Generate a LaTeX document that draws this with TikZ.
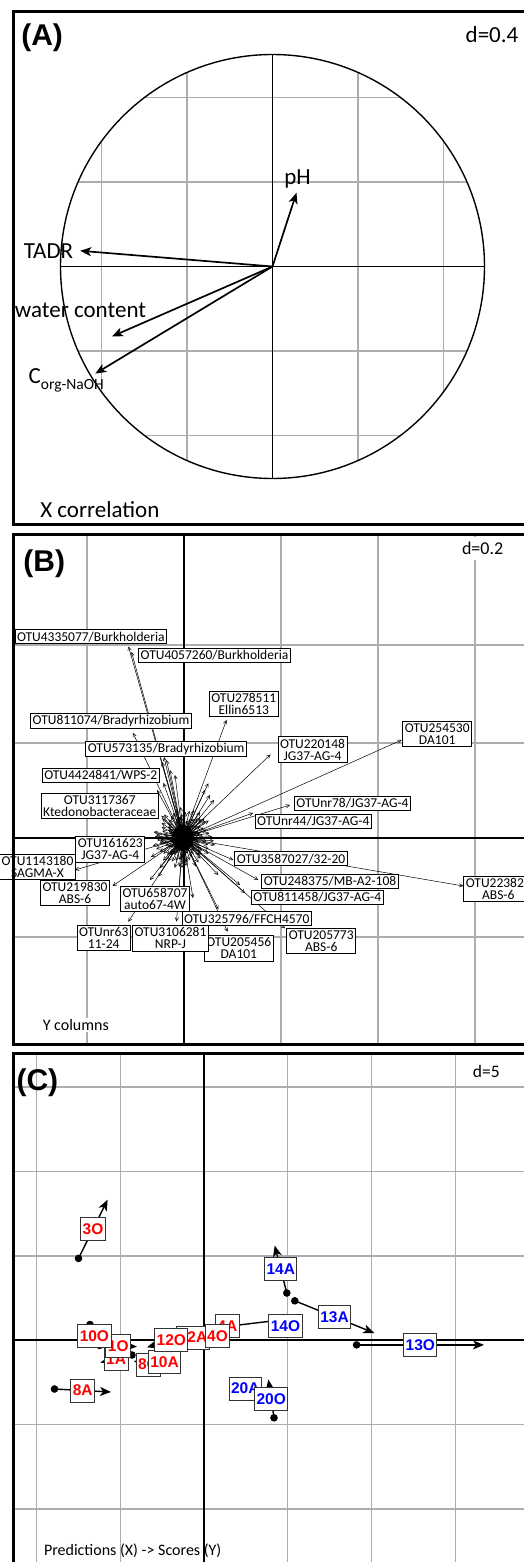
\documentclass[tikz,border=0pt]{standalone}
\usepackage{fontspec}
\setmainfont{Carlito}
\newfontfamily\headfont{Liberation Sans}
\usetikzlibrary{arrows.meta,calc}

\begin{document}
\begin{tikzpicture}
    [x=1pt, y=-1pt,
    panelframe/.style={line width=3pt},
    gridline/.style={black!32, line width=1.1pt},
    axisline/.style={black, line width=1.8pt},
    panelname/.style={font=\headfont\bfseries\fontsize{30}{30}\selectfont, inner sep=0pt},
    bigtext/.style={font=\fontsize{23}{23}\selectfont, inner sep=0pt},
    smalltext/.style={font=\fontsize{16}{16}\selectfont, inner sep=1pt},
    dtext/.style={font=\fontsize{18}{18}\selectfont, fill=white, inner sep=5pt},
    corarrow/.style={line width=1.7pt, -{Stealth[length=11pt,width=9pt,inset=3pt]}},
    otuarrow/.style={line width=0.5pt, -{Straight Barb[length=3.5pt,width=3.5pt]}},
    otu/.style={draw, fill=white, line width=0.8pt, inner sep=2pt, align=center,
        font=\fontsize{13.5}{12}\selectfont},
    scorearrow/.style={line width=1.4pt, -{Stealth[length=11pt,width=9pt,inset=3pt]}},
    smp/.style={draw=black!80, fill=white, line width=1pt, inner xsep=2pt, inner ysep=0pt,
        minimum height=23pt, font=\headfont\bfseries\fontsize{15.5}{15.5}\selectfont}]

\useasboundingbox (0,0) rectangle (524,1562);
\clip (0,0) rectangle (524,1562);

% (A) X correlation
\coordinate (oa) at (272.5,266.5);
\begin{scope}
    \clip (oa) circle [radius=212];
    \foreach \k in {-2,-1,1,2} {
        \draw[gridline] ($(oa)+(\k*85.5,-250)$) -- ($(oa)+(\k*85.5,250)$);
        \draw[gridline] ($(oa)+(-250,\k*84.5)$) -- ($(oa)+(250,\k*84.5)$);
    }
\end{scope}
\draw[line width=1.4pt] (oa) circle [radius=212];
\draw[line width=1.4pt] ($(oa)+(-212,0)$) -- ($(oa)+(212,0)$);
\draw[line width=1.4pt] ($(oa)+(0,-212)$) -- ($(oa)+(0,212)$);

\coordinate (tph) at (296.5,192.7);
\coordinate (ttadr) at (80.2,250.8);
\coordinate (twater) at (112,336.4);
\coordinate (tcorg) at (95.3,373.6);
\foreach \t in {tph,ttadr,twater,tcorg}
    \draw[corarrow] (oa) -- (\t);

\node[bigtext] (ph) at (297.5,179.2) {pH};
\node[bigtext] (tadr) at (48.5,250.8) {TADR};
\node[bigtext] (water) at (80.5,310.3) {water content};
\node[bigtext, anchor=west] (corg) at (28.5,380) {C\raisebox{-6pt}{\fontsize{15.5}{15.5}\selectfont org-NaOH}};
\node[panelname] (pa) at (42.1,37.9) {(A)};
\node[bigtext] (da) at (492,34.8) {d=0.4};
\node[bigtext] (xcor) at (99.8,510) {X correlation};

% (B) Y columns
\coordinate (ob) at (183,838);
\foreach \gx in {87,281,378,475}
    \draw[gridline] (\gx,534) -- (\gx,1044);
\foreach \gy in {645,743,937}
    \draw[gridline] (13,\gy) -- (540,\gy);
\draw[axisline] (184,534) -- (184,1044);
\draw[axisline] (13,838.3) -- (540,838.3);

\foreach \i in {1,...,170} {
    \pgfmathsetmacro{\ang}{mod(\i*83,360)+0.7*\i}
    \pgfmathsetmacro{\len}{5+mod(\i*23,27)}
    \draw[otuarrow] (ob) -- ++(\ang:\len);
}
\fill (ob) circle [x radius=11, y radius=13];
\foreach \n/\p in {a/{128.5,646.5}, b/{131.5,652}, c/{226.5,720}, d/{133,733},
        e/{164,757}, f/{166.5,760}, g/{162,762}, h/{270.5,754.5}, i/{401.5,740},
        j/{163.5,783}, k/{290,805}, l/{253,813}, m/{208.3,783.3}, n/{210,795},
        o/{214,800}, p/{205,790}, q/{151,857}, r/{75,870}, s/{112.5,886},
        t/{150,880}, u/{158.3,876.7}, v/{128.3,921.7}, w/{176.5,921.5},
        x/{218.3,909}, y/{227.7,931.7}, z/{285,928.3}, aa/{233.3,860},
        ab/{258.3,880}, ac/{245,893}, ad/{463.3,886}, ae/{218.3,875},
        af/{240,885}, ag/{185,905}, ah/{178,900}, ai/{193,898}, aj/{170,770},
        ak/{175,775}, al/{157,790}, am/{200,812}, an/{215,845}, ao/{160,868}} {
    \coordinate (tip\n) at (\p);
    \draw[otuarrow] (ob) -- (tip\n);
}

\node[otu] (o4335077) at (90.8,636.7) {OTU4335077/Burkholderia};
\node[otu] (o4057260) at (214.5,655) {OTU4057260/Burkholderia};
\node[otu] (o278511) at (243.8,703.7) {OTU278511\\Ellin6513};
\node[otu] (o811074) at (111,721) {OTU811074/Bradyrhizobium};
\node[otu] (o573135) at (166.2,748.7) {OTU573135/Bradyrhizobium};
\node[otu] (o220148) at (312.5,749.5) {OTU220148\\JG37-AG-4};
\node[otu] (o254530) at (437.2,734.2) {OTU254530\\DA101};
\node[otu] (o4424841) at (100.8,775.3) {OTU4424841/WPS-2};
\node[otu] (o3117367) at (99.8,805.8) {OTU3117367\\Ktedonobacteraceae};
\node[otu] (onr78) at (352.5,803.5) {OTUnr78/JG37-AG-4};
\node[otu] (onr44) at (313.3,821.3) {OTUnr44/JG37-AG-4};
\node[otu] (o161623) at (110.3,849.3) {OTU161623\\JG37-AG-4};
\node[otu] (o1143180) at (37.5,867.2) {OTU1143180\\SAGMA-X};
\node[otu] (o219830) at (75,893) {OTU219830\\ABS-6};
\node[otu] (o658707) at (155,898.8) {OTU658707\\auto67-4W};
\node[otu] (onr63) at (103.7,938.3) {OTUnr63\\11-24};
\node[otu] (o205456) at (238.8,948.3) {OTU205456\\DA101};
\node[otu] (o3106281) at (170.5,938.3) {OTU3106281\\NRP-J};
\node[otu] (o325796) at (246.7,918.8) {OTU325796/FFCH4570};
\node[otu] (o205773) at (321.2,941.3) {OTU205773\\ABS-6};
\node[otu] (o3587027) at (291,858.8) {OTU3587027/32-20};
\node[otu] (o248375) at (330,881.3) {OTU248375/MB-A2-108};
\node[otu] (o811458) at (317.3,897.5) {OTU811458/JG37-AG-4};
\node[otu] (o22382) at (498.3,888.8) {OTU22382\phantom{0}\\ABS-6};

\node[panelname] (pb) at (44.3,563.4) {(B)};
\node[dtext] (db) at (482.6,548.4) {d=0.2};
\node[smalltext, fill=white] (ycol) at (75.8,1025) {Y columns};

% (C) Predictions -> Scores
\foreach \gx in {36.3,120.1,287.7,371.5,455.3}
    \draw[gridline] (\gx,1053) -- (\gx,1570);
\foreach \gy in {1087,1171.5,1256,1424.5,1509}
    \draw[gridline] (13,\gy) -- (540,\gy);
\draw[axisline] (203.9,1053) -- (203.9,1570);
\draw[axisline] (13,1339.8) -- (540,1339.8);

\foreach \n/\p/\q in {3O/{78.5,1258.4}/{107.6,1199.7}, 14A/{286.8,1293}/{274.7,1245.5},
        13A/{294.8,1300.8}/{374.3,1333}, 13O/{356.6,1344.9}/{484,1344.9},
        14O/{281,1327}/{290,1325}, 8A/{54.5,1389}/{111,1392},
        1A/{132,1355}/{100.3,1362.6}, 1O/{99.6,1345.4}/{137,1346.6},
        10O/{90,1324.5}/{98.8,1348}, 8O/{163.1,1368.3}/{133.7,1360.9},
        10A/{160,1366}/{169,1358}, 12O/{195.6,1332.9}/{147,1347.3},
        12A/{190,1340}/{196,1335}, 4A/{174.6,1332.8}/{280,1320},
        4O/{214,1338}/{221,1334}, 20A/{243,1391}/{247.6,1386},
        20O/{274,1417.8}/{268.4,1379.5}} {
    \coordinate (p\n) at (\p);
    \coordinate (s\n) at (\q);
    \draw[scorearrow] (p\n) -- (s\n);
    \fill (p\n) circle [radius=3.8];
}
\foreach \n/\c in {3O/red, 14A/blue, 13A/blue, 13O/blue, 14O/blue, 8A/red, 1A/red,
        1O/red, 10O/red, 8O/red, 10A/red, 12A/red, 12O/red, 4A/red, 4O/red,
        20A/blue, 20O/blue}
    \node[smp, text=\c] (n\n) at ($(p\n)!0.5!(s\n)$) {\n};

\node[panelname] (pc) at (37.4,1082.6) {(C)};
\node[smalltext, font=\fontsize{17.5}{17.5}\selectfont] (dc) at (486.3,1071.7) {d=5};
\node[smalltext] (pred) at (132.7,1550.9) {Predictions (X) -> Scores (Y)};

% frames
\draw[panelframe] (13.3,11.5) rectangle (545,524);
\draw[panelframe] (13.3,534) rectangle (545,1044.3);
\draw[panelframe] (13.3,1053.3) rectangle (545,1585);
\end{tikzpicture}
\end{document}
